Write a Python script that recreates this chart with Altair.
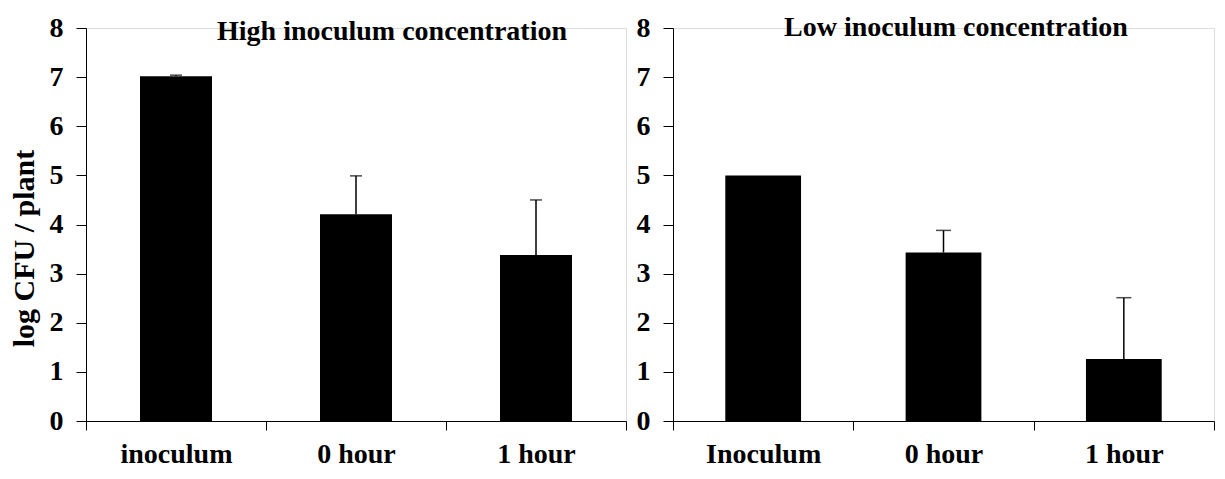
import altair as alt
import pandas as pd

# ---- data ----
high_cats = ["inoculum", "0 hour", "1 hour"]
high_vals = [7.02, 4.21, 3.38]
high_err_top = [7.04, 4.99, 4.50]

low_cats = ["Inoculum", "0 hour", "1 hour"]
low_vals = [5.00, 3.43, 1.26]
low_err_top = [5.00, 3.88, 2.51]

y_ticks = [0, 1, 2, 3, 4, 5, 6, 7, 8]

FONT = "Liberation Serif"
FS = 28


def panel(cats, vals, errs, title, tx, ty, width, ytitle, barfrac, cap):
    df = pd.DataFrame({"cat": cats, "val": vals, "err": errs})
    x = alt.X(
        "cat:N",
        sort=cats,
        scale=alt.Scale(paddingInner=0, paddingOuter=0),
        axis=alt.Axis(
            title=None, labelAngle=0, tickBand="extent", tickSize=9,
            labelPadding=10, labelFont=FONT, labelFontSize=FS,
            labelFontWeight="bold", labelColor="black",
            domainColor="black", tickColor="black",
        ),
    )
    yax = dict(
        values=y_ticks, tickSize=10, labelPadding=13, labelFont=FONT,
        labelFontSize=FS, labelFontWeight="bold", labelColor="black",
        domainColor="black", tickColor="black", grid=False,
    )
    if ytitle:
        yax.update(title=ytitle, titleFont=FONT, titleFontSize=30,
                   titleFontWeight="bold", titleColor="black",
                   titlePadding=10, titleY=220)
    else:
        yax.update(title=None)
    y = alt.Y("val:Q", scale=alt.Scale(domain=[0, 8], nice=False),
              axis=alt.Axis(**yax))

    base = alt.Chart(df)
    bars = base.mark_bar(color="black", width=alt.RelativeBandSize(barfrac)).encode(x=x, y=y)
    err = base.transform_filter("datum.err > datum.val")
    rules = err.mark_rule(color="black", strokeWidth=1.5).encode(
        x=alt.X("cat:N", sort=cats), y="val:Q", y2="err:Q")
    caps = err.mark_tick(color="black", size=cap, thickness=1.5).encode(
        x=alt.X("cat:N", sort=cats), y="err:Q")
    ttl = alt.Chart(pd.DataFrame({"t": [title]})).mark_text(
        font=FONT, fontSize=FS, fontWeight="bold", color="black",
        align="center", baseline="alphabetic",
    ).encode(text="t:N", x=alt.value(tx), y=alt.value(ty))
    return alt.layer(bars, rules, caps, ttl).properties(width=width, height=393)


left = panel(high_cats, high_vals, high_err_top,
             "High inoculum concentration", 306, 12, 540, "log CFU / plant", 0.4, 12)
right = panel(low_cats, low_vals, low_err_top,
              "Low inoculum concentration", 283, 8, 541, None, 0.42, 15)

chart = alt.hconcat(left, right, spacing=8).properties(
    padding={"left": 0, "top": 5, "right": 0, "bottom": 0}
).configure_view(stroke=None).configure(background="white")

chart.save("out.html", embed_options={"renderer": "svg", "actions": False})
